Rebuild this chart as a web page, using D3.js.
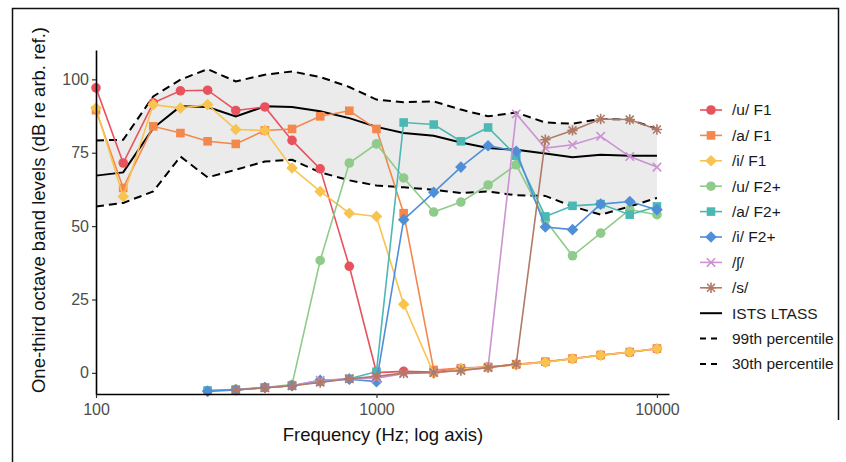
<!DOCTYPE html>
<html>
<head>
<meta charset="utf-8">
<script src="https://cdn.jsdelivr.net/npm/d3@7"></script>
<style>
  body { margin: 0; background: #fff; }
  svg { font-family: "Liberation Sans", Arial, sans-serif; }
</style>
</head>
<body>
<div id="chart"></div>
<script>
// one-third octave band centre frequencies (Hz)
const freqs = [100, 125, 160, 200, 250, 315, 400, 500, 630, 800, 1000, 1250, 1600, 2000, 2500, 3150, 4000, 5000, 6300, 8000, 10000];

// band levels per speech sound (null = not plotted)
const uF1 = [97.1, 71.5, 92, 96.1, 96.3, 89.4, 90.6, 79.2, 69.5, 36.3, 0.1, 0.5, 0.3, 1.5, 2, 2.8, 3.7, 4.8, 6, 7, 8.2];
const aF1 = [89.5, 63, 84, 81.7, 78.9, 78, 82.6, 83.1, 87.4, 89.3, 83.1, 54.4, 1, 1.6, 2, 2.9, 3.8, 4.9, 6.1, 7.1, 8.3];
const iF1 = [90.2, 60.1, 91.4, 90.2, 91.4, 82.9, 82.6, 69.8, 61.8, 54.4, 53.3, 23.4, -0.2, 1.4, 1.9, 2.8, 3.6, 4.8, 6, 7.1, 8.2];
const uF2 = [null, null, null, null, -6, -5.6, -5, -4, 38.3, 71.5, 78, 66.4, 54.8, 58.2, 64, 70.9, 52, 39.9, 47.6, 55.6, 53.9];
const aF2 = [null, null, null, null, -6, -5.8, -5, -4.4, -3, -2, 0.4, 85.3, 84.6, 78.9, 83.6, 74, 53.3, 56.9, 57.5, 53.9, 56.7];
const iF2 = [null, null, null, null, -6.3, -5.8, -5, -4.4, -2.5, -2.2, -3, 52.2, 61.5, 70.1, 77.4, 75.5, 49.7, 48.8, 57.5, 58.4, 55.6];
const esh = [null, null, null, null, null, -5.8, -5, -4.4, -2.5, -2, -1.8, -0.3, 0.1, 0.8, 1.8, 88.2, 76.6, 77.7, 80.6, 73.7, 70.1];
const ess = [null, null, null, null, null, -5.8, -5.1, -4.4, -3.3, -2, -1.2, -0.1, 0.1, 0.8, 1.8, 3, 79.4, 82.6, 86.5, 86.3, 82.9];

// reference spectra
const ltass = [67.2, 68.3, 83.4, 90.8, 90.6, 87.4, 90.8, 90.6, 89.1, 86.8, 83.8, 81.7, 80.8, 78.5, 76.6, 76, 74.7, 73.5, 74.3, 74, 74];
const p99 = [79.2, 79.4, 94.2, 99.9, 103.5, 99.3, 101.6, 102.7, 100.8, 97.4, 93.1, 92.2, 92.5, 89.7, 87.4, 88.7, 85.3, 84.9, 86.5, 86.3, 83.1];
const p30 = [56.7, 57.9, 61.8, 73.7, 66.6, 69.2, 72, 72.6, 68.3, 65.6, 63.8, 63.2, 62.4, 61.3, 61.8, 60.5, 60.3, 56.7, 53.9, 56.7, 59.6];

const xTicks = [100, 1000, 10000];
const yTicks = [0, 25, 50, 75, 100];

const series = [
  {name: "/u/ F1", values: uF1, color: "#e8525d", shape: "circle"},
  {name: "/a/ F1", values: aF1, color: "#f4874b", shape: "square"},
  {name: "/i/ F1", values: iF1, color: "#f8c34e", shape: "diamond"},
  {name: "/u/ F2+", values: uF2, color: "#8fcb8a", shape: "circle"},
  {name: "/a/ F2+", values: aF2, color: "#4bb8b3", shape: "square"},
  {name: "/i/ F2+", values: iF2, color: "#4f8fd8", shape: "diamond"},
  {name: "/ʃ/", values: esh, color: "#cc92d2", shape: "cross"},
  {name: "/s/", values: ess, color: "#b07a67", shape: "star"}
];

const W = 846, H = 462;
const svg = d3.select("#chart").append("svg")
  .attr("width", W).attr("height", H);

// frame round the figure
svg.append("path")
  .attr("d", "M12.5,462 V8.5 H838.5 V420")
  .attr("fill", "none").attr("stroke", "#111").attr("stroke-width", 1.5);

var x = d3.scaleLog().domain([100, 11040]).range([96, 669]);
var y = d3.scaleLinear().domain([-7.2, 110]).range([394, 50]);

// ribbon between 30th and 99th percentile
var band = freqs.map((f, i) => ({f: f, lo: p30[i], hi: p99[i]}));
svg.append("path")
  .datum(band)
  .attr("fill", "#ebebeb")
  .attr("d", d3.area().x(d => x(d.f)).y0(d => y(d.lo)).y1(d => y(d.hi)));

var line = d3.line()
  .defined(d => d.v !== null)
  .x(d => x(d.f)).y(d => y(d.v));

function pts(vals) { return freqs.map((f, i) => ({f: f, v: vals[i]})); }

[p99, p30].forEach(vals => {
  svg.append("path").datum(pts(vals))
    .attr("fill", "none").attr("stroke", "#000")
    .attr("stroke-width", 2).attr("stroke-dasharray", "8,5")
    .attr("d", line);
});
svg.append("path").datum(pts(ltass))
  .attr("fill", "none").attr("stroke", "#000")
  .attr("stroke-width", 2).attr("d", line);

// marker shapes
function marker(g, shape, color) {
  if (shape == "circle") {
    g.append("circle").attr("r", 4.8).attr("fill", color);
  } else if (shape == "square") {
    g.append("rect").attr("x", -4.3).attr("y", -4.3).attr("width", 8.6).attr("height", 8.6).attr("fill", color);
  } else if (shape == "diamond") {
    g.append("path").attr("d", "M0,-5.8 L5.8,0 L0,5.8 L-5.8,0 Z").attr("fill", color);
  } else if (shape == "cross") {
    g.append("path").attr("d", "M-4.2,-4.2 L4.2,4.2 M-4.2,4.2 L4.2,-4.2")
      .attr("stroke", color).attr("stroke-width", 1.6);
  } else {
    g.append("path").attr("d", "M-4,-4 L4,4 M-4,4 L4,-4 M-5.2,0 L5.2,0 M0,-5.2 L0,5.2")
      .attr("stroke", color).attr("stroke-width", 1.6);
  }
}

series.forEach(s => {
  var data = pts(s.values);
  svg.append("path").datum(data)
    .attr("fill", "none").attr("stroke", s.color)
    .attr("stroke-width", 1.6).attr("d", line);
  svg.selectAll(null)
    .data(data.filter(d => d.v !== null))
    .enter().append("g")
    .attr("transform", d => "translate(" + x(d.f) + "," + y(d.v) + ")")
    .each(function() { marker(d3.select(this), s.shape, s.color); });
});

// axes
var xAxis = svg.append("g").attr("transform", "translate(0,394)")
  .call(d3.axisBottom(x).tickValues(xTicks).tickFormat(d3.format("d")).tickSize(4).tickSizeOuter(0));
var yAxis = svg.append("g").attr("transform", "translate(96,0)")
  .call(d3.axisLeft(y).tickValues(yTicks).tickSize(4).tickSizeOuter(0));
[xAxis, yAxis].forEach(a => {
  a.select(".domain").attr("stroke", "#000").attr("stroke-width", 1.6);
  a.selectAll(".tick line").attr("stroke", "#333").attr("stroke-width", 1.2);
  a.selectAll("text").attr("fill", "#4d4d4d").style("font-size", "16px")
    .style("font-family", "Liberation Sans, Arial, sans-serif");
});
xAxis.selectAll("text").attr("dy", "0.85em");

svg.append("text")
  .attr("x", 383).attr("y", 441)
  .attr("text-anchor", "middle")
  .style("font-size", "18.5px").attr("fill", "#111")
  .text("Frequency (Hz; log axis)");
svg.append("text")
  .attr("transform", "translate(45,210) rotate(-90)")
  .attr("text-anchor", "middle")
  .style("font-size", "18.5px").attr("fill", "#111")
  .text("One-third octave band levels (dB re arb. ref.)");

// legend
var legendY0 = 110, legendStep = 25.4;
var leg = svg.append("g");
series.forEach((s, i) => {
  var ly = legendY0 + i * legendStep;
  leg.append("line").attr("x1", 700).attr("x2", 722).attr("y1", ly).attr("y2", ly)
    .attr("stroke", s.color).attr("stroke-width", 1.6);
  marker(leg.append("g").attr("transform", "translate(711," + ly + ")"), s.shape, s.color);
  leg.append("text").attr("x", 732).attr("y", ly).attr("dy", "0.35em")
    .style("font-size", "15.5px").attr("fill", "#1a1a1a").text(s.name);
});
var refs = [["ISTS LTASS", null], ["99th percentile", "6,5"], ["30th percentile", "6,5"]];
refs.forEach((r, i) => {
  var ly = legendY0 + (series.length + i) * legendStep;
  leg.append("line").attr("x1", 700).attr("x2", 722).attr("y1", ly).attr("y2", ly)
    .attr("stroke", "#000").attr("stroke-width", 2)
    .attr("stroke-dasharray", r[1]);
  leg.append("text").attr("x", 732).attr("y", ly).attr("dy", "0.35em")
    .style("font-size", "15.5px").attr("fill", "#1a1a1a").text(r[0]);
});
</script>
</body>
</html>
